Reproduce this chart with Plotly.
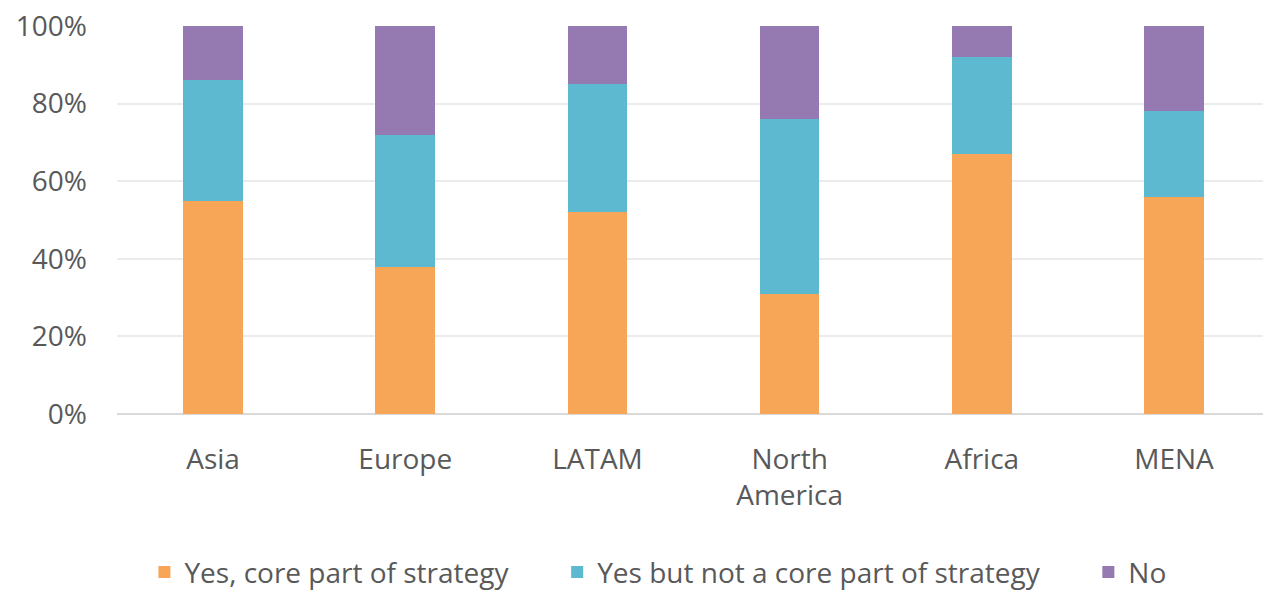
import plotly.graph_objects as go

# Regions and share of respondents (%) per answer
regions = ["Asia", "Europe", "LATAM", "North<br>America", "Africa", "MENA"]
yes_core = [55, 38, 52, 31, 67, 56]
yes_not_core = [31, 34, 33, 45, 25, 22]
no = [14, 28, 15, 24, 8, 22]

series_names = ["Yes, core part of strategy", "Yes but not a core part of strategy", "No"]
series_colors = ["#F7A657", "#5CB9D0", "#947AB1"]
y_ticks = [0, 20, 40, 60, 80, 100]
y_tick_labels = ["0%", "20%", "40%", "60%", "80%", "100%"]

FONT = "Open Sans"
FONT_SIZE = 28
TEXT_COLOR = "#595959"
PAD = "\u00a0" * 6  # extra room between legend entries

fig = go.Figure()
for i, (name, vals, color) in enumerate(zip(series_names, [yes_core, yes_not_core, no], series_colors)):
    label = name + (PAD if i < len(series_names) - 1 else "")
    fig.add_trace(go.Bar(
        x=regions, y=vals, name=label,
        marker=dict(color=color, line=dict(width=0)),
    ))

fig.update_layout(
    width=1263, height=594,
    barmode="stack", bargap=0.69,
    plot_bgcolor="white", paper_bgcolor="white",
    margin=dict(l=117, r=0, t=26, b=180, autoexpand=False),
    font=dict(family=FONT, size=FONT_SIZE, color=TEXT_COLOR),
    legend=dict(
        orientation="h", x=0.472, xanchor="center",
        y=-0.408, yanchor="middle",
        font=dict(family=FONT, size=FONT_SIZE, color=TEXT_COLOR),
        itemwidth=30, traceorder="normal",
        bgcolor="rgba(0,0,0,0)", borderwidth=0,
    ),
    xaxis=dict(
        range=[-0.5, 5.463], showgrid=False, showline=False, ticks="",
        ticklabelstandoff=26,
        tickfont=dict(family=FONT, size=FONT_SIZE, color=TEXT_COLOR),
    ),
    yaxis=dict(
        range=[0, 100], tickvals=y_ticks, ticktext=y_tick_labels,
        showgrid=True, gridcolor="#EBEBEB", gridwidth=2,
        zeroline=True, zerolinecolor="#D9D9D9", zerolinewidth=2,
        showline=False, ticks="", ticklabelstandoff=29,
        tickfont=dict(family=FONT, size=FONT_SIZE, color=TEXT_COLOR),
    ),
)

fig.write_html("out.html")
